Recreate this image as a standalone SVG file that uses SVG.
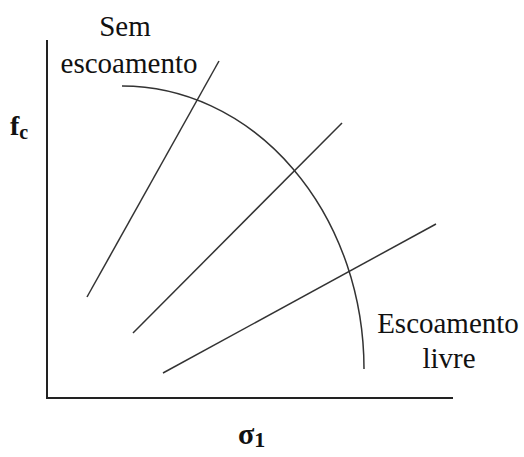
<svg xmlns="http://www.w3.org/2000/svg" width="524" height="457" viewBox="0 0 524 457">
<style>
.ax{stroke:#222;stroke-width:2;fill:none}
.ln{stroke:#333;stroke-width:1.5;fill:none}
text{font-family:"Liberation Serif","Times New Roman",serif;fill:#111}
.lbl{font-size:29px}
.b{font-weight:bold}
</style>
<rect width="524" height="457" fill="#fff"/>
<g id="connectors">
<path class="ax" d="M47,40 V398 H453"/>
<path class="ln" d="M122,86 A242,283 0 0 1 364,369"/>
<line class="ln" x1="87" y1="297" x2="219" y2="61"/>
<line class="ln" x1="133" y1="333" x2="342" y2="123"/>
<line class="ln" x1="163" y1="373" x2="436" y2="224"/>
</g>
<g id="label-sem">
<text class="lbl" x="125" y="36" text-anchor="middle">Sem</text>
<text class="lbl" x="129" y="73" text-anchor="middle">escoamento</text>
</g>
<g id="label-livre">
<text class="lbl" x="448" y="333" text-anchor="middle">Escoamento</text>
<text class="lbl" x="449" y="368" text-anchor="middle">livre</text>
</g>
<g id="label-fc">
<text class="b" x="10" y="135" font-size="28">f<tspan font-size="20" dy="4">c</tspan></text>
</g>
<g id="label-sigma">
<text class="b" x="238" y="444" font-size="30">σ<tspan font-size="22" dy="3">1</tspan></text>
</g>
</svg>
